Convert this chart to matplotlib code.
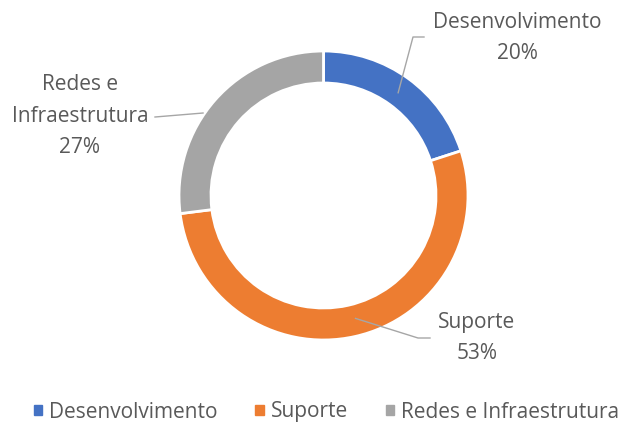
import numpy as np
import matplotlib.pyplot as plt

# -----------------------------
# Data
# -----------------------------
categories = ["Desenvolvimento", "Suporte", "Redes e Infraestrutura"]
label_names = ["Desenvolvimento", "Suporte", "Redes e\nInfraestrutura"]
shares = [20, 53, 27]
colors = ["#4472C4", "#ED7D31", "#A5A5A5"]

plt.rcParams['font.family'] = ['Open Sans', 'DejaVu Sans']
TEXT = "#595959"
LINE = "#A6A6A6"

W, H = 625, 426
fig = plt.figure(figsize=(W / 100, H / 100), dpi=100)
ax = fig.add_axes([0, 0, 1, 1])

cx, cy, r_out = 323.5, H - 195.5, 144.5
ring = 32

wedges, _ = ax.pie(shares, colors=colors, startangle=90, counterclock=False,
                   center=(cx, cy), radius=r_out,
                   wedgeprops=dict(width=ring, edgecolor='white', linewidth=2))
ax.set_xlim(0, W)
ax.set_ylim(0, H)
ax.set_aspect('equal')
ax.axis('off')

# -----------------------------
# Data labels with leader lines
# -----------------------------
# text centre (pixels from top), elbow point, line end near the text
label_pos = [(517, 38), (477, 338), (80, 116)]
elbow = [(413, 37), (418, 338), None]
line_end = [(424, 37), (430, 338), (155, 117)]
anchor_r = [127, 127, 146]
angle_shift = [0, 2, 7]

for i, w in enumerate(wedges):
    mid = np.deg2rad((w.theta1 + w.theta2) / 2 + angle_shift[i])
    pts = [(cx + anchor_r[i] * np.cos(mid), cy + anchor_r[i] * np.sin(mid))]
    if elbow[i] is not None:
        pts.append((elbow[i][0], H - elbow[i][1]))
    pts.append((line_end[i][0], H - line_end[i][1]))
    xs, ys = zip(*pts)
    ax.plot(xs, ys, color=LINE, lw=1)
    tx, ty = label_pos[i]
    ax.text(tx, H - ty, f"{label_names[i]}\n{shares[i]}%", ha='center', va='center',
            fontsize=15, color=TEXT, linespacing=1.65)

# -----------------------------
# Legend
# -----------------------------
handles = [plt.Rectangle((0, 0), 1, 1, color=c) for c in colors]
fig.legend(handles, categories, loc='center', bbox_to_anchor=(326.5 / W, 1 - 412 / H),
           ncol=3, frameon=False, fontsize=15, labelcolor=TEXT,
           handlelength=0.4, handleheight=0.4, handletextpad=0.35, columnspacing=1.8,
           borderaxespad=0, borderpad=0)

fig.savefig("out.png", dpi=100)
